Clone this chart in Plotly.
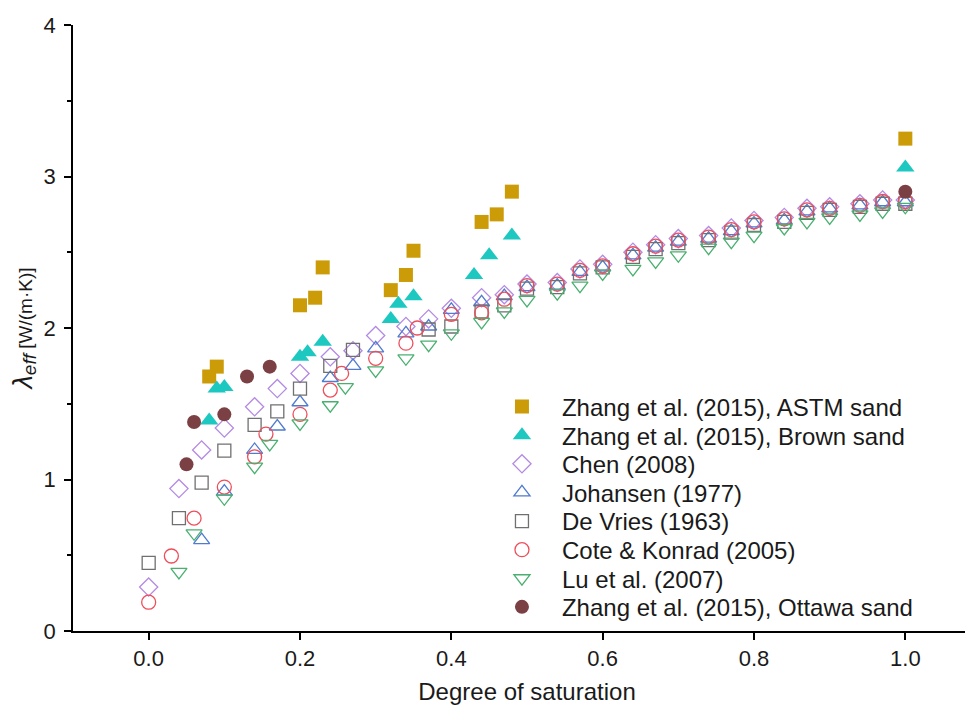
import plotly.graph_objects as go

# ---------------- data ----------------
astm_x = [0.08, 0.09, 0.20, 0.22, 0.23, 0.32, 0.34, 0.35, 0.44, 0.46, 0.48, 1.00]
astm_y = [1.68, 1.745, 2.15, 2.20, 2.40, 2.25, 2.35, 2.51, 2.70, 2.75, 2.90, 3.25]

brown_x = [0.08, 0.09, 0.10, 0.20, 0.21, 0.23, 0.32, 0.33, 0.35, 0.43, 0.45, 0.48, 1.00]
brown_y = [1.39, 1.60, 1.61, 1.81, 1.84, 1.91, 2.06, 2.16, 2.21, 2.35, 2.48, 2.61, 3.06]

chen_x = [0.00, 0.04, 0.07, 0.10, 0.14, 0.17, 0.20, 0.24, 0.27, 0.30, 0.34, 0.37, 0.40,
          0.44, 0.47, 0.50, 0.54, 0.57, 0.60, 0.64, 0.67, 0.70, 0.74, 0.77, 0.80, 0.84,
          0.87, 0.90, 0.94, 0.97, 1.00]
chen_y = [0.29, 0.94, 1.195, 1.34, 1.48, 1.60, 1.70, 1.81, 1.85, 1.95, 2.01, 2.06, 2.13,
          2.20, 2.22, 2.29, 2.30, 2.39, 2.42, 2.50, 2.55, 2.59, 2.61, 2.66, 2.71, 2.73,
          2.79, 2.80, 2.82, 2.845, 2.845]

joh_x = [0.07, 0.10, 0.14, 0.17, 0.20, 0.24, 0.27, 0.30, 0.34, 0.37, 0.40, 0.44, 0.47,
         0.50, 0.54, 0.57, 0.60, 0.64, 0.67, 0.70, 0.74, 0.77, 0.80, 0.84, 0.87, 0.90,
         0.94, 0.97, 1.00]
joh_y = [0.60, 0.92, 1.195, 1.35, 1.51, 1.67, 1.75, 1.866, 1.965, 2.01, 2.12, 2.17, 2.21,
         2.27, 2.28, 2.37, 2.40, 2.48, 2.53, 2.57, 2.59, 2.64, 2.69, 2.71, 2.77, 2.79,
         2.81, 2.83, 2.83]

dv_x = [0.00, 0.04, 0.07, 0.10, 0.14, 0.17, 0.20, 0.24, 0.27, 0.37, 0.40, 0.44, 0.47,
        0.50, 0.54, 0.57, 0.60, 0.64, 0.67, 0.70, 0.74, 0.77, 0.80, 0.84, 0.87, 0.90,
        0.94, 0.97, 1.00]
dv_y = [0.45, 0.745, 0.98, 1.19, 1.36, 1.45, 1.60, 1.75, 1.855, 1.99, 2.01, 2.11, 2.15,
        2.26, 2.27, 2.36, 2.40, 2.47, 2.52, 2.56, 2.58, 2.63, 2.68, 2.70, 2.76, 2.78,
        2.80, 2.82, 2.82]

cote_x = [0.00, 0.03, 0.06, 0.10, 0.14, 0.155, 0.20, 0.24, 0.255, 0.30, 0.34, 0.355,
          0.40, 0.44, 0.47, 0.50, 0.54, 0.57, 0.60, 0.64, 0.67, 0.70, 0.74, 0.77, 0.80,
          0.84, 0.87, 0.90, 0.94, 0.97, 1.00]
cote_y = [0.19, 0.495, 0.745, 0.95, 1.15, 1.30, 1.43, 1.59, 1.70, 1.80, 1.90, 2.00,
          2.09, 2.10, 2.19, 2.28, 2.29, 2.38, 2.41, 2.49, 2.54, 2.58, 2.60, 2.65, 2.70,
          2.72, 2.78, 2.79, 2.81, 2.835, 2.835]

lu_x = [0.04, 0.06, 0.10, 0.14, 0.16, 0.20, 0.24, 0.26, 0.30, 0.34, 0.37, 0.40, 0.44,
        0.47, 0.50, 0.54, 0.57, 0.60, 0.64, 0.67, 0.70, 0.74, 0.77, 0.80, 0.84, 0.87,
        0.90, 0.94, 0.97, 1.00]
lu_y = [0.39, 0.645, 0.876, 1.085, 1.235, 1.37, 1.49, 1.61, 1.72, 1.80, 1.89, 1.965, 2.04,
        2.11, 2.185, 2.23, 2.28, 2.36, 2.39, 2.44, 2.48, 2.53, 2.57, 2.61, 2.66, 2.70,
        2.73, 2.75, 2.77, 2.80]

ott_x = [0.05, 0.06, 0.10, 0.13, 0.16, 1.00]
ott_y = [1.10, 1.38, 1.43, 1.68, 1.745, 2.90]

x_ticks = [0.0, 0.2, 0.4, 0.6, 0.8, 1.0]
x_ticklabels = ["0.0", "0.2", "0.4", "0.6", "0.8", "1.0"]
y_ticks = [0, 1, 2, 3, 4]

# ---------------- figure ----------------
FONT = "Liberation Sans, Arial, sans-serif"
TXT = "#1a1a1a"

series = [
    ("Zhang et al. (2015), ASTM sand", astm_x, astm_y,
     dict(symbol="square", size=14, color="#CC9C08", line=dict(width=0))),
    ("Zhang et al. (2015), Brown sand", brown_x, brown_y,
     dict(symbol="triangle-up", size=16, color="#1CC8C0", line=dict(width=0))),
    ("Chen (2008)", chen_x, chen_y,
     dict(symbol="diamond-open", size=14, color="#B48AE4", line=dict(width=1.3))),
    ("Johansen (1977)", joh_x, joh_y,
     dict(symbol="triangle-up-open", size=14, color="#4F7BD0", line=dict(width=1.3))),
    ("De Vries (1963)", dv_x, dv_y,
     dict(symbol="square-open", size=13, color="#707070", line=dict(width=1.3))),
    ("Cote & Konrad (2005)", cote_x, cote_y,
     dict(symbol="circle-open", size=14, color="#EE4E5A", line=dict(width=1.3))),
    ("Lu et al. (2007)", lu_x, lu_y,
     dict(symbol="triangle-down-open", size=14, color="#49B070", line=dict(width=1.3))),
    ("Zhang et al. (2015), Ottawa sand", ott_x, ott_y,
     dict(symbol="circle", size=14, color="#7B4044", line=dict(width=0))),
]

# legend rows: one single-entry legend per series so the row pitch matches
LEG_X = 0.4504
ROW0_PAPER = 0.3696      # centre of first row (paper units)
ROW_STEP = 0.0472        # pitch between rows (paper units)

fig = go.Figure()
legend_layouts = {}
for i, (name, xs, ys, mk) in enumerate(series):
    key = "legend" if i == 0 else f"legend{i + 1}"
    fig.add_trace(go.Scatter(x=xs, y=ys, mode="markers", name=name, marker=mk,
                             legend=key))
    legend_layouts[key] = dict(
        x=LEG_X, y=ROW0_PAPER - i * ROW_STEP, xanchor="left", yanchor="middle",
        bgcolor="rgba(0,0,0,0)", borderwidth=0, itemwidth=70,
        font=dict(family=FONT, size=24, color=TXT),
    )

fig.update_layout(
    width=973, height=707,
    margin=dict(l=65, r=0, t=17, b=84),
    paper_bgcolor="white", plot_bgcolor="white",
    font=dict(family=FONT, color=TXT, size=22),
    showlegend=True,
    xaxis=dict(
        range=[-0.1, 1.1], showgrid=False, zeroline=False,
        showline=True, linecolor="black", linewidth=1.6,
        ticks="outside", ticklen=7, tickwidth=1.6, tickcolor="black",
        tickvals=x_ticks, ticktext=x_ticklabels,
        tickfont=dict(family=FONT, size=22, color=TXT),
        title=dict(text="Degree of saturation", standoff=13,
                   font=dict(family=FONT, size=24, color=TXT)),
    ),
    yaxis=dict(
        range=[0, 4], showgrid=False, zeroline=False,
        showline=True, linecolor="black", linewidth=1.6,
        ticks="outside", ticklen=7, tickwidth=1.6, tickcolor="black",
        tickvals=y_ticks, ticklabelstandoff=4,
        tickfont=dict(family=FONT, size=22, color=TXT),
        minor=dict(ticks="outside", ticklen=4, tickwidth=1.6, tickcolor="black", dtick=0.5),
        title=dict(text='<i><span style="font-size:27px">λ</span></i><sub><i>'
                        '<span style="font-size:19px">eff</span></i></sub> [W/(m·K)]',
                   standoff=8, font=dict(family=FONT, size=19, color=TXT)),
    ),
    **legend_layouts,
)

fig.write_html("out.html")
